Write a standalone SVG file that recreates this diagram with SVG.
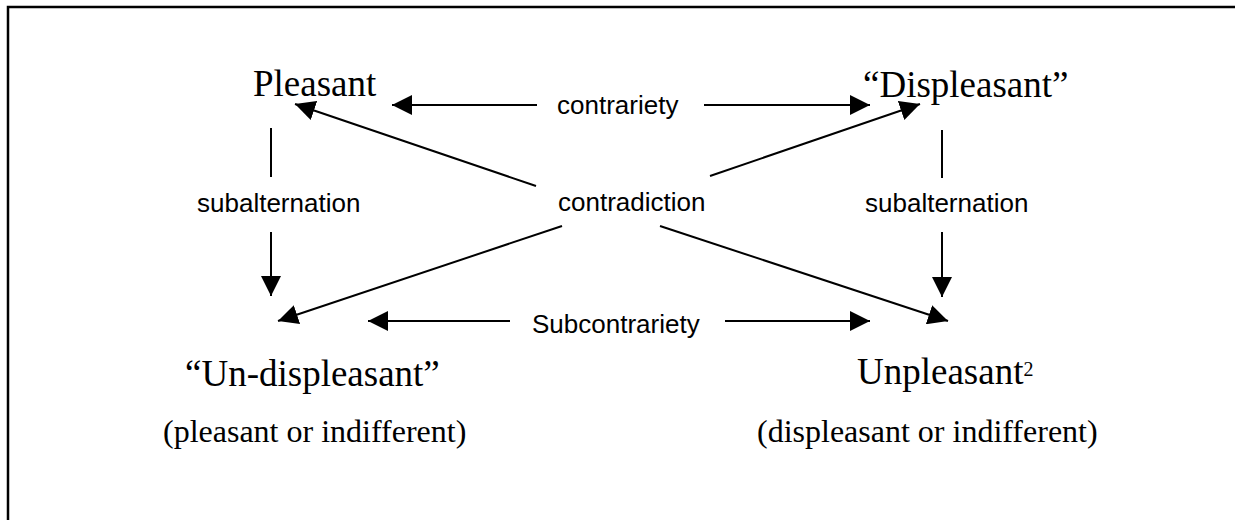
<svg xmlns="http://www.w3.org/2000/svg" width="1235" height="520" viewBox="0 0 1235 520">
<style>
.serif{font-family:"Liberation Serif","Times New Roman",serif;fill:#000}
.big{font-size:37px}
.sub{font-size:32px}
.sans{font-family:"Liberation Sans",Arial,sans-serif;font-size:26px;fill:#000}
.c{stroke:#000;stroke-width:2;fill:none}
.a{marker-end:url(#ah)}
</style>
<defs>
<marker id="ah" markerUnits="userSpaceOnUse" markerWidth="20" markerHeight="20" refX="20" refY="10" orient="auto" viewBox="0 0 20 20">
<path d="M0,0 L20,10 L0,20 Z" fill="#000"/>
</marker>
</defs>
<rect x="0" y="0" width="1235" height="520" fill="#fff"/>
<rect x="8" y="7" width="1400" height="700" fill="none" stroke="#000" stroke-width="2.5"/>
<g id="node-pleasant"><text class="serif big" x="253" y="96">Pleasant</text></g>
<g id="node-displeasant"><text class="serif big" x="863" y="97">“Displeasant”</text></g>
<g id="node-undispleasant">
<text class="serif big" x="185" y="386">“Un-displeasant”</text>
<text class="serif sub" x="163" y="442">(pleasant or indifferent)</text>
</g>
<g id="node-unpleasant">
<text class="serif big" x="857" y="384">Unpleasant<tspan font-size="20" dy="-8">2</tspan></text>
<text class="serif sub" x="757" y="442">(displeasant or indifferent)</text>
</g>
<g id="labels">
<text class="sans" x="557" y="114">contrariety</text>
<text class="sans" x="558" y="211">contradiction</text>
<text class="sans" x="197" y="212">subalternation</text>
<text class="sans" x="865" y="212">subalternation</text>
<text class="sans" x="532" y="333">Subcontrariety</text>
</g>
<g id="connectors">
<line class="c a" x1="537" y1="105" x2="392" y2="105"/>
<line class="c a" x1="704" y1="105" x2="870" y2="105"/>
<line class="c a" x1="510" y1="321" x2="368" y2="321"/>
<line class="c a" x1="725" y1="321" x2="870" y2="321"/>
<line class="c" x1="271" y1="128" x2="271" y2="177"/>
<line class="c a" x1="271" y1="232" x2="271" y2="296"/>
<line class="c" x1="942" y1="130" x2="942" y2="178"/>
<line class="c a" x1="942" y1="232" x2="942" y2="297"/>
<line class="c a" x1="536" y1="186" x2="295" y2="104"/>
<line class="c a" x1="710" y1="176" x2="920" y2="104"/>
<line class="c a" x1="562" y1="226" x2="278" y2="321"/>
<line class="c a" x1="660" y1="226" x2="948" y2="321"/>
</g>
</svg>
